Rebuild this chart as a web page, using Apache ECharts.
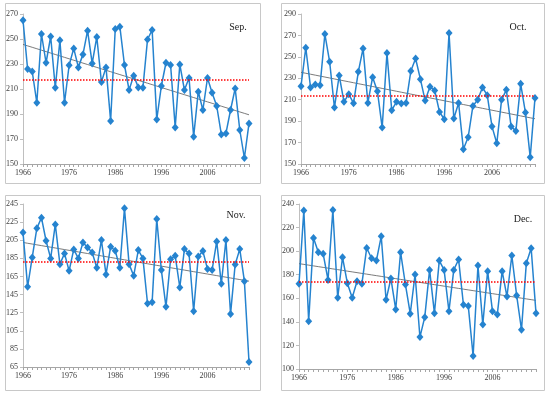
<!DOCTYPE html>
<html>
<head>
<meta charset="utf-8">
<script src="https://cdn.jsdelivr.net/npm/echarts@6/dist/echarts.min.js"></script>
<style>html,body{margin:0;padding:0;background:#fff;}#c{width:550px;height:394px;}</style>
</head>
<body>
<div id="c"></div>
<script>
const years = [];
for (let y = 1966; y <= 2015; y++) years.push(String(y));

const sepValues = [265,226,224,199,254,231,252,211,249,199,229,242.5,227.3,237.7,256.7,230.5,251.6,215.6,227.3,184.4,258,259.9,229.2,209.2,220.7,211.3,211,249.7,257.2,185.7,212.4,231,229.2,179.3,229.7,209.2,218.8,171.9,207.9,193.2,218.8,207,196.4,173.7,174.5,193.2,210.5,177.2,154.8,182.5];
const octValues = [222.6,258.5,221.4,224.2,223.6,271.3,245.4,202.7,232.6,208,215.2,206.7,236,257.9,207,231,218,184,253.5,200.2,208,206.4,207,236.7,248.5,229.2,209.2,222,218.6,198.6,191.8,272.2,192.4,207,163.7,174.9,204.2,209.9,221.4,214.2,184.9,169.3,209.9,219.2,184.9,180.9,224.8,198,156.2,211.7];
const novValues = [213.6,153.5,186,218.1,229.9,204.4,184.9,222.5,178.6,190.4,171.2,194.8,184.9,202.6,197,191.5,174.5,205.2,167.2,197.8,193.4,174.5,240.2,178.6,165.7,194.1,184.9,135.1,136.6,228.4,172,131.4,184.1,187.8,152.8,195.2,190.4,126.6,187.1,193,173.1,172,203.7,156.8,205.2,123.6,178.2,195.2,159.8,70.5];
const decValues = [172.3,234.4,140.6,211.2,199.1,197.7,175.6,234.9,160.4,194.8,172.8,160.4,174.5,172.3,202.7,194,192,212.6,158.7,176.8,150.5,199.1,171.7,146.9,180.2,127.1,144,184.1,147.4,192,184.1,149.1,184.1,192.9,154.5,153.4,111,187.8,137.8,183,149.1,146.3,183,161.5,196.3,162.4,133.3,189.8,202.5,147.4];

const panelNames = ['Sep.','Oct.','Nov.','Dec.'];
const yMin = [150,150,65,100];
const yMax = [270,290,245,240];

const panels = [
  {vals: sepValues, grid:{left:23, top:14, width:226, height:150}, box:[5,3,255,180], title:[238,27]},
  {vals: octValues, grid:{left:301, top:14, width:234, height:150}, box:[281,3,263,180], title:[518,27]},
  {vals: novValues, grid:{left:23, top:204, width:226, height:163}, box:[5,195,255,195], title:[236,215]},
  {vals: decValues, grid:{left:299, top:204, width:237, height:165}, box:[281,195,263,195], title:[523,219]}
];

function trend(vals){
  const n = vals.length;
  let sx=0, sy=0, sxx=0, sxy=0;
  vals.forEach((v,i)=>{sx+=i; sy+=v; sxx+=i*i; sxy+=i*v;});
  const b = (n*sxy - sx*sy)/(n*sxx - sx*sx);
  const a = (sy - b*sx)/n;
  return vals.map((_,i)=>+(a+b*i).toFixed(2));
}

const labelFont = {fontFamily:'Liberation Serif', fontSize:8, color:'#404040'};
const grids=[], xAxes=[], yAxes=[], series=[], graphics=[];
panels.forEach((p,k)=>{
  grids.push(p.grid);
  xAxes.push({type:'category', gridIndex:k, data:years, boundaryGap:false,
    axisLine:{lineStyle:{color:'#a6a6a6'}},
    axisTick:{show:true, interval:0, length:3, lineStyle:{color:'#a6a6a6'}},
    axisLabel:Object.assign({interval:9, margin:5}, labelFont),
    splitLine:{show:false}});
  yAxes.push({type:'value', gridIndex:k, min:yMin[k], max:yMax[k], interval:20,
    axisLine:{show:true, lineStyle:{color:'#bfbfbf'}},
    axisTick:{show:true, length:3, lineStyle:{color:'#bfbfbf'}},
    axisLabel:Object.assign({margin:5}, labelFont),
    splitLine:{show:false}});
  series.push({type:'line', xAxisIndex:k, yAxisIndex:k, data:p.vals,
    showAllSymbol:true,
    symbol:'diamond', symbolSize:[7,8], lineStyle:{color:'#2583cf', width:1.5},
    itemStyle:{color:'#2583cf'}, z:3,
    markLine:{silent:true, symbol:'none', label:{show:false},
      lineStyle:{color:'#ff0000', type:'dotted', width:1.5},
      data:[{type:'average'}]}});
  series.push({type:'line', xAxisIndex:k, yAxisIndex:k, data:trend(p.vals),
    symbol:'none', lineStyle:{color:'#595959', width:0.8}, z:2});
  graphics.push({type:'rect', shape:{x:p.box[0]+0.5, y:p.box[1]+0.5, width:p.box[2], height:p.box[3]},
    style:{fill:'none', stroke:'#c8c8c8', lineWidth:1}, z:-1});
  graphics.push({type:'text', x:p.title[0], y:p.title[1],
    style:{text:panelNames[k], font:'10px "Liberation Serif"', fill:'#222', textAlign:'center', textVerticalAlign:'middle'}});
});

const chart = echarts.init(document.getElementById('c'), null, {renderer:'canvas'});
chart.setOption({
  animation:false,
  backgroundColor:'#fff',
  grid:grids, xAxis:xAxes, yAxis:yAxes, series:series, graphic:graphics
});
</script>
</body>
</html>
